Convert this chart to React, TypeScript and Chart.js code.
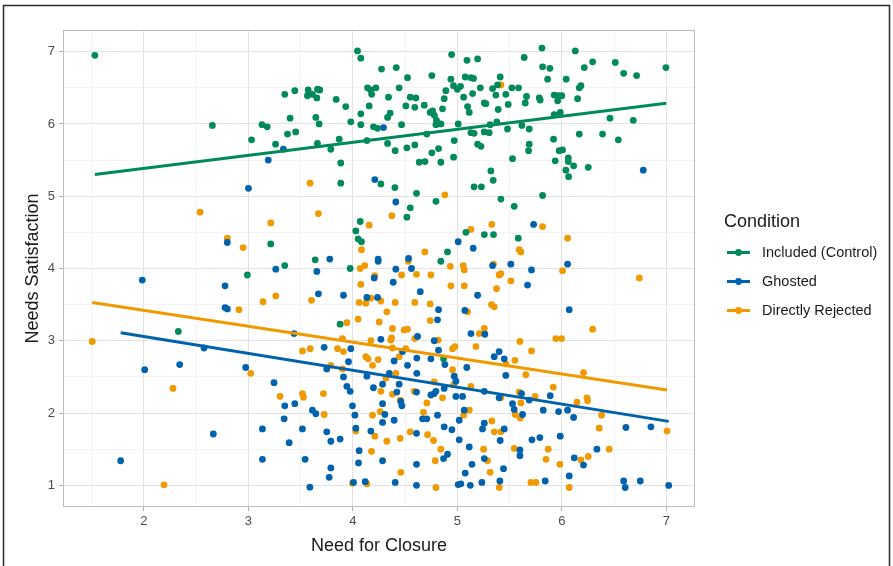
import React, { useEffect, useRef } from 'react';
import { Chart, registerables } from 'chart.js';

Chart.register(...registerables);

// ---------- data ----------
const conditionLabels = ['Included (Control)', 'Ghosted', 'Directly Rejected'];
const conditionColors = ['#008A5C', '#0062AC', '#EE9A00'];
const legendTitle = 'Condition';
const xTitle = 'Need for Closure';
const yTitle = 'Needs Satisfaction';
const xTicks = [2, 3, 4, 5, 6, 7];
const yTicks = [1, 2, 3, 4, 5, 6, 7];
const xMinorTicks = [1.5, 2.5, 3.5, 4.5, 5.5, 6.5];
const yMinorTicks = [1.5, 2.5, 3.5, 4.5, 5.5, 6.5];

const includedPoints: number[][] = [
  [1.53, 6.95], [2.655, 5.98], [3.13, 5.99], [3.18, 5.96], [3.03, 5.78], [3.26, 5.72],
  [4.044, 7.01], [4.076, 6.91], [4.274, 6.76], [4.415, 6.78], [4.523, 6.64], [4.756, 6.67], [4.945, 6.96],
  [5.092, 6.88], [5.194, 6.9], [4.938, 6.62], [5.075, 6.65], [5.13, 6.64], [5.155, 6.63], [5.22, 6.5],
  [4.963, 6.53], [5.0, 6.48], [5.03, 6.52], [3.348, 6.41], [3.444, 6.46], [3.572, 6.47], [3.661, 6.48],
  [3.683, 6.47], [3.565, 6.39], [3.613, 6.41], [3.655, 6.36], [3.84, 6.34], [3.932, 6.24], [4.14, 6.5],
  [4.17, 6.47], [4.22, 6.5], [4.18, 6.41], [4.156, 6.25], [4.076, 6.14], [4.341, 6.37], [4.443, 6.5],
  [4.549, 6.37], [4.603, 6.36], [4.507, 6.25], [4.593, 6.23], [4.683, 6.26], [4.874, 6.35], [4.89, 6.46],
  [5.06, 6.37], [5.146, 6.42], [5.258, 6.29], [5.098, 6.24], [5.114, 6.16], [4.763, 6.18], [4.74, 6.16],
  [4.78, 6.12], [4.8, 6.05], [4.795, 5.99], [4.843, 6.0], [4.858, 6.21], [4.357, 6.15], [4.332, 6.09],
  [4.466, 5.99], [3.98, 6.03], [4.076, 5.99], [4.197, 5.96], [4.236, 5.94], [3.399, 6.08], [3.645, 6.09],
  [3.677, 6.0], [3.374, 5.86], [3.453, 5.89], [3.661, 5.73], [3.789, 5.65], [3.869, 5.79], [3.884, 5.46],
  [4.134, 5.77], [4.332, 5.73], [4.405, 5.63], [4.517, 5.67], [4.593, 5.71], [4.635, 5.47], [4.69, 5.48],
  [4.708, 5.86], [4.756, 5.6], [4.82, 5.66], [4.842, 5.47], [4.97, 5.77], [4.964, 5.54], [5.008, 6.0],
  [5.13, 5.88], [5.16, 5.87], [5.194, 5.72], [5.226, 5.69], [3.884, 5.18], [4.268, 5.17], [4.402, 5.12],
  [5.16, 5.13], [5.23, 5.13],
  [5.81, 7.05], [6.129, 7.01], [5.64, 6.92], [5.816, 6.79], [5.886, 6.77], [5.864, 6.62], [6.042, 6.62],
  [6.215, 6.78], [6.295, 6.86], [6.512, 6.85], [6.592, 6.7], [6.716, 6.67], [6.997, 6.78], [5.41, 6.65],
  [5.337, 6.49], [5.385, 6.54], [5.369, 6.4], [5.522, 6.5], [5.586, 6.5], [5.464, 6.41], [5.273, 6.28],
  [5.487, 6.27], [5.391, 6.2], [5.662, 6.38], [5.65, 6.29], [5.784, 6.36], [5.793, 6.33], [5.927, 6.4],
  [5.966, 6.39], [6.0, 6.39], [5.96, 6.32], [6.183, 6.53], [6.167, 6.5], [6.151, 6.35], [5.927, 6.13],
  [5.985, 6.16], [6.461, 6.08], [6.684, 6.05], [5.378, 6.03], [5.314, 5.99], [5.257, 5.89], [5.305, 5.88],
  [5.48, 5.93], [5.618, 5.98], [5.688, 5.93], [5.921, 5.79], [6.167, 5.86], [6.39, 5.86], [6.541, 5.78],
  [5.688, 5.72], [5.682, 5.63], [5.975, 5.63], [6.007, 5.64], [5.528, 5.52], [5.937, 5.49], [6.062, 5.53],
  [6.062, 5.48], [6.113, 5.42], [6.039, 5.36], [6.253, 5.4], [6.065, 5.27], [5.321, 5.35], [5.343, 5.22],
  [3.214, 4.34], [2.99, 3.91], [2.329, 3.13],
  [4.609, 5.04], [4.795, 4.93], [4.549, 4.84], [4.517, 4.71], [4.07, 4.65], [4.028, 4.52], [4.05, 4.41],
  [4.082, 4.37], [5.082, 4.5], [5.258, 4.47], [4.906, 4.23], [4.842, 4.1], [3.639, 4.12], [3.348, 4.04],
  [3.974, 4.0], [3.878, 3.23],
  [5.417, 4.96], [5.816, 5.01], [5.544, 4.86], [5.346, 4.47], [5.583, 4.42], [4.868, 2.75],
];

const ghostedPoints: number[][] = [
  [3.19, 5.5], [3.0, 5.11], [3.335, 5.65], [4.293, 5.95], [4.21, 5.23], [6.78, 5.36],
  [2.798, 4.36], [1.984, 3.84], [2.776, 3.76], [2.776, 3.46], [2.798, 3.44], [3.262, 3.99],
  [4.411, 4.92], [5.008, 4.37], [5.152, 4.28], [3.779, 4.13], [3.655, 3.96], [4.242, 4.13], [4.242, 4.1],
  [4.533, 4.14], [4.561, 4.0], [4.411, 3.99], [4.204, 3.87], [4.386, 3.81], [4.645, 3.68], [5.194, 3.63],
  [3.67, 3.65], [3.91, 3.63], [4.134, 3.6], [4.236, 3.6], [4.82, 3.43], [4.81, 3.29], [5.072, 3.42],
  [3.437, 3.1], [4.268, 3.02], [4.619, 3.06], [4.779, 3.0], [5.13, 3.1],
  [5.73, 4.61], [5.337, 4.04], [5.512, 4.06], [6.055, 4.06], [5.71, 3.98], [5.672, 3.77], [6.071, 3.43],
  [5.263, 3.09],
  [2.007, 2.6], [2.342, 2.67], [2.974, 2.63], [3.245, 2.42], [2.664, 1.71], [3.134, 1.78], [1.777, 1.34],
  [3.134, 1.36], [2.575, 2.9],
  [3.725, 2.91], [3.98, 2.89], [4.395, 2.72], [4.475, 2.85], [4.612, 2.76], [4.747, 2.75], [4.82, 2.87],
  [4.881, 2.67], [5.09, 2.63], [3.958, 2.71], [3.75, 2.61], [3.91, 2.5], [3.942, 2.37], [3.974, 2.3],
  [4.134, 2.51], [4.197, 2.35], [4.284, 2.4], [4.348, 2.55], [4.443, 2.4], [4.523, 2.66], [4.612, 2.55],
  [4.795, 2.3], [4.874, 2.34], [4.97, 2.51], [4.986, 2.44], [4.986, 2.23], [5.05, 2.23], [5.258, 2.3],
  [4.747, 2.25], [4.779, 2.27], [4.609, 2.29], [4.421, 2.29], [4.459, 2.16], [4.469, 2.1], [4.284, 2.13],
  [3.348, 2.1], [3.444, 2.13], [3.613, 2.04], [3.645, 1.99], [3.342, 1.92], [3.996, 2.1], [4.019, 1.97],
  [4.306, 1.98], [4.284, 1.87], [4.395, 1.9], [4.667, 1.92], [4.708, 1.92], [4.81, 1.97], [5.066, 2.04],
  [5.018, 1.9], [4.874, 1.81], [4.948, 1.77], [5.258, 1.86], [4.028, 1.79], [3.517, 1.78], [3.75, 1.74],
  [3.789, 1.61], [3.878, 1.64], [3.39, 1.59], [4.172, 1.75], [4.609, 1.72], [5.018, 1.63], [4.906, 1.43],
  [4.868, 1.37], [5.114, 1.53], [5.14, 1.29], [5.258, 1.37], [4.06, 1.48], [4.054, 1.31], [4.284, 1.34],
  [4.609, 1.29], [3.543, 1.36], [3.789, 1.24], [3.773, 1.11], [3.588, 0.975], [4.006, 1.04], [4.118, 1.05],
  [4.405, 1.04], [4.609, 1.0], [5.008, 1.01], [5.034, 1.02], [5.124, 1.0], [5.235, 1.04], [5.075, 1.17],
  [5.353, 2.78], [5.4, 2.85], [5.449, 2.75], [5.464, 2.52], [5.4, 2.21], [5.615, 2.27], [5.688, 2.18],
  [5.889, 2.24], [5.528, 2.13], [5.544, 2.05], [5.624, 1.98], [5.822, 2.04], [5.969, 2.02], [6.055, 2.04],
  [6.113, 1.94], [5.241, 1.78], [5.449, 1.78], [5.41, 1.62], [6.614, 1.8], [6.853, 1.81], [5.985, 1.68],
  [5.714, 1.63], [5.79, 1.66], [5.599, 1.49], [5.599, 1.41], [6.336, 1.5], [6.119, 1.38], [6.208, 1.28],
  [5.442, 1.23], [5.407, 1.06], [5.841, 1.06], [6.071, 1.13], [6.592, 1.06], [6.607, 0.97], [6.751, 1.06],
  [7.023, 0.998],
];

const rejectedPoints: number[][] = [
  [3.59, 5.18], [5.417, 6.54],
  [2.537, 4.78], [3.214, 4.63], [2.798, 4.42], [2.949, 4.29], [2.91, 3.43], [3.14, 3.54], [3.262, 3.62],
  [1.505, 2.99],
  [4.881, 5.02], [4.373, 4.73], [3.67, 4.76], [4.156, 4.6], [5.13, 4.54], [4.082, 4.26], [4.689, 4.23],
  [4.07, 4.0], [4.114, 4.04], [4.53, 4.1], [4.466, 3.91], [4.609, 3.92], [4.746, 3.91], [4.932, 4.03],
  [5.056, 4.04], [5.066, 3.98], [4.21, 3.9], [4.076, 3.78], [4.938, 3.76], [5.066, 3.76], [3.604, 3.56],
  [4.172, 3.59], [4.268, 3.55], [4.06, 3.53], [4.124, 3.52], [4.405, 3.53], [4.593, 3.53], [4.74, 3.51],
  [5.098, 3.4], [4.325, 3.4], [4.05, 3.3], [4.74, 3.28], [4.252, 3.26], [3.942, 3.25], [4.379, 3.17],
  [4.37, 3.04], [4.363, 3.01], [4.491, 3.15], [4.523, 3.16], [3.9, 3.03], [4.172, 3.0], [4.593, 3.03],
  [4.817, 3.01], [5.21, 3.1], [5.258, 3.17],
  [5.33, 4.61], [5.816, 4.58], [6.055, 4.42], [5.592, 4.26], [5.608, 4.23], [5.346, 4.06], [6.007, 3.97],
  [5.4, 3.91], [5.417, 3.93], [5.512, 3.83], [6.742, 3.87], [5.375, 3.72], [5.327, 3.5], [5.353, 3.47],
  [6.295, 3.16], [5.599, 2.99], [5.943, 3.03], [5.998, 3.03],
  [3.022, 2.55], [2.278, 2.34], [2.192, 1.007],
  [3.517, 2.86], [3.591, 2.89], [3.853, 2.89], [3.91, 2.85], [4.124, 2.78], [4.146, 2.75], [4.242, 2.74],
  [4.188, 2.66], [4.379, 2.9], [4.443, 2.78], [4.507, 2.89], [4.954, 2.89], [4.977, 2.92], [5.178, 2.92],
  [4.954, 2.6], [3.789, 2.66], [3.9, 2.61], [4.316, 2.48], [4.411, 2.55], [4.779, 2.43], [4.964, 2.39],
  [5.13, 2.37], [4.858, 2.21], [4.587, 2.3], [4.268, 2.3], [4.379, 2.26], [4.453, 2.18], [3.303, 2.23],
  [3.517, 2.27], [3.527, 2.22], [3.718, 2.27], [3.725, 1.98], [4.188, 1.97], [4.261, 2.02], [4.708, 2.14],
  [4.676, 2.01], [5.06, 1.97], [5.114, 2.04], [4.028, 1.75], [4.21, 1.68], [4.325, 1.61], [4.453, 1.65],
  [4.548, 1.74], [4.715, 1.7], [4.772, 1.62], [4.842, 1.5], [4.788, 1.34], [5.251, 1.5], [4.178, 1.47],
  [4.459, 1.18], [3.996, 1.03], [4.134, 1.02], [4.795, 0.97],
  [5.551, 2.73], [5.71, 2.86], [5.464, 2.68], [5.656, 2.53], [6.208, 2.56], [5.918, 2.36], [5.417, 2.21],
  [5.592, 2.29], [5.745, 2.23], [5.608, 2.14], [5.554, 1.98], [5.602, 1.93], [6.145, 2.15], [6.24, 2.21],
  [6.247, 2.17], [6.381, 1.97], [5.33, 1.89], [5.353, 1.74], [5.417, 1.74], [6.358, 1.79], [7.007, 1.75],
  [5.544, 1.51], [5.87, 1.5], [5.848, 1.36], [5.289, 1.34], [6.454, 1.5], [6.253, 1.4], [6.183, 1.35],
  [5.982, 1.29], [5.314, 1.18], [5.401, 0.97], [5.704, 1.04], [5.752, 1.04], [6.071, 0.97],
];

// fitted lines: [x, y] at both ends
const includedTrend = [[1.53, 5.3], [7.0, 6.285]];
const ghostedTrend = [[1.777, 3.11], [7.023, 1.885]];
const rejectedTrend = [[1.505, 3.53], [7.007, 2.32]];

const FONT = '"Liberation Sans", Arial, Helvetica, sans-serif';

export default function App() {
  const ref = useRef<HTMLCanvasElement>(null);

  useEffect(() => {
    const toXY = (arr: number[][]) => arr.map(([x, y]) => ({ x, y }));
    const pointSets = [includedPoints, ghostedPoints, rejectedPoints];
    const trendSets = [includedTrend, ghostedTrend, rejectedTrend];

    const lineDatasets = trendSets.map((t, i) => ({
      type: 'line' as const,
      label: conditionLabels[i] + ' fit',
      data: toXY(t),
      borderColor: conditionColors[i],
      borderWidth: 3,
      pointRadius: 0,
      fill: false,
      tension: 0,
    }));
    const pointDatasets = pointSets.map((p, i) => ({
      type: 'scatter' as const,
      label: conditionLabels[i],
      data: toXY(p),
      backgroundColor: conditionColors[i],
      borderWidth: 0,
      pointRadius: 3.4,
      pointHoverRadius: 3.4,
    }));

    const isMajor = (v: number) => Math.abs(v - Math.round(v)) < 1e-9;
    const gridOpts = {
      color: (c: any) => (c.tick && isMajor(c.tick.value) ? '#e2e2e2' : '#f0f0f0'),
      lineWidth: (c: any) => (c.tick && isMajor(c.tick.value) ? 1 : 0.8),
      tickColor: (c: any) => (c.tick && isMajor(c.tick.value) ? '#b3b3b3' : 'rgba(0,0,0,0)'),
      tickLength: 4,
      drawTicks: true,
    };

    const framePlugin = {
      id: 'frame',
      afterDraw(chart: any) {
        const { ctx, chartArea: a } = chart;
        ctx.save();
        // panel border
        ctx.strokeStyle = '#bdbdbd';
        ctx.lineWidth = 1;
        ctx.strokeRect(Math.round(a.left) + 0.5, Math.round(a.top) + 0.5,
          Math.round(a.right - a.left) - 1, Math.round(a.bottom - a.top) - 1);
        // legend
        ctx.fillStyle = '#1a1a1a';
        ctx.textBaseline = 'middle';
        ctx.textAlign = 'left';
        ctx.font = `18px ${FONT}`;
        ctx.fillText(legendTitle, 724, 222);
        ctx.font = `14.5px ${FONT}`;
        conditionLabels.forEach((lab, i) => {
          const y = 252.5 + i * 29;
          ctx.strokeStyle = conditionColors[i];
          ctx.lineWidth = 3;
          ctx.beginPath();
          ctx.moveTo(727, y);
          ctx.lineTo(750, y);
          ctx.stroke();
          ctx.fillStyle = conditionColors[i];
          ctx.beginPath();
          ctx.arc(738.5, y, 3.4, 0, Math.PI * 2);
          ctx.fill();
          ctx.fillStyle = '#1a1a1a';
          ctx.fillText(lab, 762, y);
        });
        // outer frame of the figure
        ctx.strokeStyle = '#2b2b2b';
        ctx.lineWidth = 1.5;
        ctx.beginPath();
        ctx.moveTo(3.5, 570);
        ctx.lineTo(3.5, 5.5);
        ctx.lineTo(889.5, 5.5);
        ctx.lineTo(889.5, 570);
        ctx.stroke();
        ctx.restore();
      },
    };

    const chart = new Chart(ref.current as HTMLCanvasElement, {
      type: 'scatter',
      data: { datasets: [...lineDatasets, ...pointDatasets] as any },
      options: {
        animation: false,
        responsive: false,
        events: [],
        layout: { padding: { top: 30, right: 198, left: 0, bottom: 0 } },
        plugins: { legend: { display: false }, tooltip: { enabled: false } },
        scales: {
          x: {
            type: 'linear',
            min: 1.225,
            max: 7.275,
            afterBuildTicks: (s: any) => {
              s.ticks = [...xTicks, ...xMinorTicks].sort((a, b) => a - b).map((v) => ({ value: v }));
            },
            afterFit: (s: any) => { s.height = 59; },
            ticks: {
              autoSkip: false,
              maxRotation: 0,
              padding: 3,
              color: '#4d4d4d',
              font: { family: FONT, size: 13 },
              callback: (v: any) => (isMajor(Number(v)) ? String(v) : ''),
            },
            grid: gridOpts as any,
            border: { display: false },
            title: {
              display: true,
              text: xTitle,
              color: '#1a1a1a',
              font: { family: FONT, size: 18 },
              padding: { top: 0, bottom: 9 },
            },
          },
          y: {
            type: 'linear',
            min: 0.7,
            max: 7.3,
            afterBuildTicks: (s: any) => {
              s.ticks = [...yTicks, ...yMinorTicks].sort((a, b) => a - b).map((v) => ({ value: v }));
            },
            afterFit: (s: any) => { s.width = 63; },
            ticks: {
              autoSkip: false,
              padding: 4,
              color: '#4d4d4d',
              font: { family: FONT, size: 13 },
              callback: (v: any) => (isMajor(Number(v)) ? String(v) : ''),
            },
            grid: gridOpts as any,
            border: { display: false },
            title: {
              display: true,
              text: yTitle,
              color: '#1a1a1a',
              font: { family: FONT, size: 18 },
              padding: { top: 22, bottom: 0 },
            },
          },
        },
      },
      plugins: [framePlugin],
    });
    return () => chart.destroy();
  }, []);

  return (
    <div style={{ position: 'fixed', left: 0, top: 0, width: 893, height: 566, background: '#ffffff', overflow: 'hidden' }}>
      <canvas ref={ref} width={893} height={566} style={{ display: 'block', width: 893, height: 566 }} />
    </div>
  );
}
